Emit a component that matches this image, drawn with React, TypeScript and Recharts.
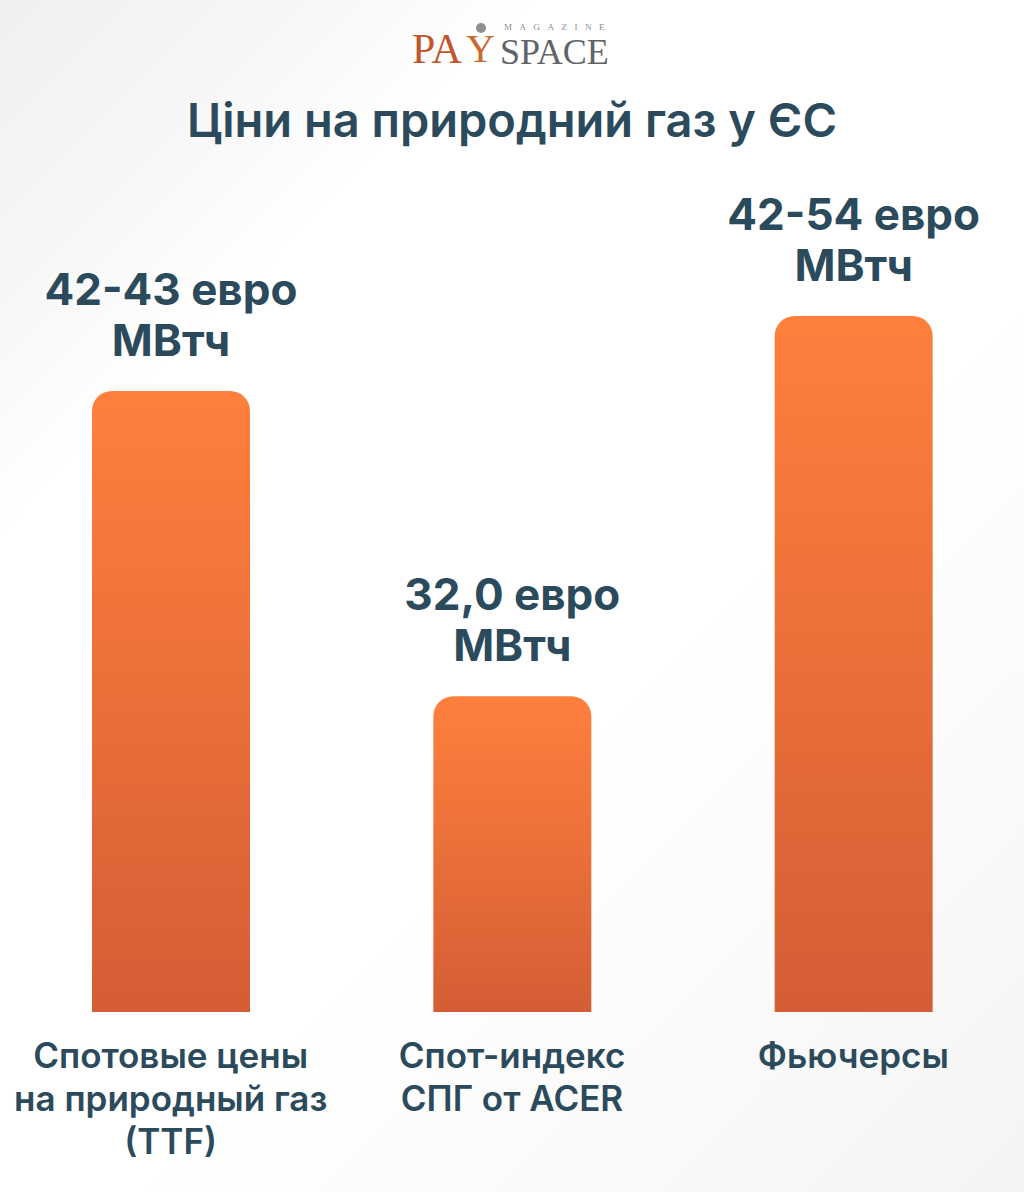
import { BarChart, Bar, XAxis, YAxis, LabelList } from "recharts";

// categories (multi-line tick labels) and bar value labels
const categories = ["Спотовые цены|на природный газ|(TTF)", "Спот-индекс|СПГ от ACER", "Фьючерсы"];
const valueLabels = ["42-43 евро", "32,0 евро", "42-54 евро"];
const unitLabels = ["МВтч", "МВтч", "МВтч"];
// bar heights as drawn (relative scale 0-100)
const barHeights = [82.8, 42.1, 92.8];

const TEXT = "#2b4a5c";
const FONT = "Inter, 'Noto Sans', sans-serif";

const data = categories.map((c, i) => ({
  name: c,
  value: barHeights[i],
  label: valueLabels[i],
  unit: unitLabels[i],
}));

function CategoryTick(props: any) {
  const { x, y, payload } = props;
  const lines = String(payload.value).split("|");
  return (
    <g>
      {lines.map((ln, i) => (
        <text
          key={i}
          x={x}
          y={y + 48 + i * 43}
          textAnchor="middle"
          fill={TEXT}
          fontFamily={FONT}
          fontSize={35}
          fontWeight={600}
        >
          {ln}
        </text>
      ))}
    </g>
  );
}

function ValueLabel(props: any) {
  const { x, y, width, index } = props;
  const cx = x + width / 2;
  return (
    <g>
      <text x={cx} y={y - 86} textAnchor="middle" fill={TEXT} fontFamily={FONT} fontSize={44} fontWeight={700}>
        {valueLabels[index]}
      </text>
      <text x={cx} y={y - 35} textAnchor="middle" fill={TEXT} fontFamily={FONT} fontSize={44} fontWeight={700}>
        {unitLabels[index]}
      </text>
    </g>
  );
}

function Logo() {
  return (
    <div style={{ position: "absolute", top: 22, left: 412, width: 210, height: 50, fontFamily: "'Liberation Serif', 'DejaVu Serif', serif" }}>
      <div style={{ position: "absolute", left: 92, top: 1, fontSize: 9, lineHeight: "9px", letterSpacing: 7.5, color: "#8a8d90" }}>MAGAZINE</div>
      <div style={{ position: "absolute", left: 0, top: 6, fontSize: 42, lineHeight: "42px", color: "#c2562a" }}>PA</div>
      <div style={{ position: "absolute", left: 54, top: 11, fontSize: 40, lineHeight: "32px", color: "#c96a2e" }}>Y</div>
      <div style={{ position: "absolute", left: 64, top: 1, width: 10, height: 10, borderRadius: 5, background: "#8e9194" }} />
      <div style={{ position: "absolute", left: 88, top: 15, fontSize: 36, lineHeight: "30px", color: "#5f6469" }}>SPACE</div>
    </div>
  );
}

export default function App() {
  return (
    <div
      style={{
        position: "absolute",
        top: 0,
        left: 0,
        width: 1024,
        height: 1192,
        overflow: "hidden",
        background:
          "linear-gradient(135deg, #f0f0f0 0%, #f7f7f7 14%, #ffffff 24%, #ffffff 60%, #fafafa 80%, #f4f4f4 100%)",
      }}
    >
      <Logo />
      <div
        style={{
          position: "absolute",
          top: 90,
          left: 0,
          width: 1024,
          textAlign: "center",
          fontFamily: FONT,
          fontSize: 47,
          fontWeight: 600,
          color: TEXT,
          lineHeight: "60px",
        }}
      >
        Ціни на природний газ у ЄС
      </div>
      <div style={{ position: "absolute", top: 0, left: 0 }}>
        <BarChart width={1024} height={1192} data={data} margin={{ top: 262, right: 0, left: 0, bottom: 0 }}>
          <defs>
            <linearGradient id="barFill" x1="0" y1="0" x2="0" y2="1">
              <stop offset="0%" stopColor="#ff803d" />
              <stop offset="100%" stopColor="#d45d35" />
            </linearGradient>
          </defs>
          <YAxis hide domain={[0, 100]} />
          <XAxis
            dataKey="name"
            axisLine={false}
            tickLine={false}
            interval={0}
            height={180}
            tick={<CategoryTick />}
          />
          <Bar dataKey="value" fill="url(#barFill)" barSize={158} radius={[20, 20, 0, 0]} isAnimationActive={false}>
            <LabelList dataKey="label" content={<ValueLabel />} />
          </Bar>
        </BarChart>
      </div>
    </div>
  );
}
